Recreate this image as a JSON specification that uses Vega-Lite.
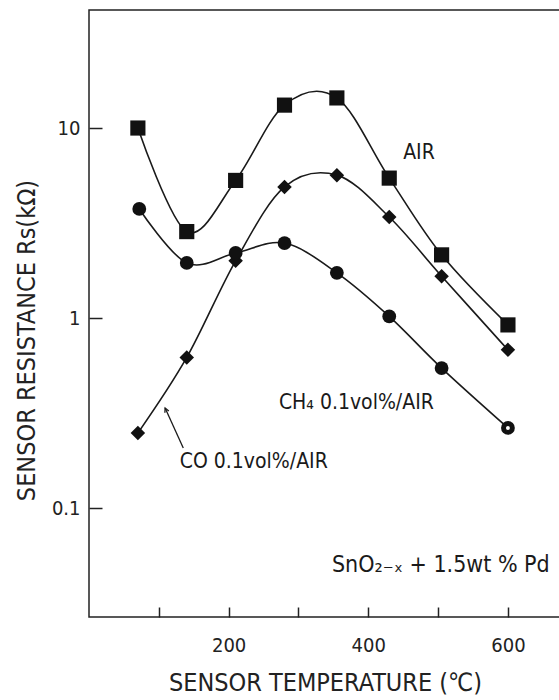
{
  "$schema": "https://vega.github.io/schema/vega-lite/v6.json",
  "width": 472,
  "height": 607,
  "autosize": {"type": "none"},
  "padding": {"left": 89, "top": 10, "right": 0, "bottom": 83},
  "background": "white",
  "config": {
    "view": {"stroke": "#222222", "strokeWidth": 1.5},
    "font": "DejaVu Sans Condensed, sans-serif",
    "axis": {"domain": false, "grid": false, "tickColor": "#222222", "tickWidth": 1.5, "labelColor": "#222222", "titleColor": "#222222", "labelFont": "DejaVu Sans Condensed, sans-serif", "titleFont": "DejaVu Sans Condensed, sans-serif", "titleFontWeight": "normal"}
  },
  "datasets": {
    "curves": [
      {"series": "AIR", "T": 70, "R": 10},
      {"series": "AIR", "T": 140, "R": 2.85},
      {"series": "AIR", "T": 210, "R": 5.3},
      {"series": "AIR", "T": 280, "R": 13.2},
      {"series": "AIR", "T": 355, "R": 14.4},
      {"series": "AIR", "T": 430, "R": 5.45},
      {"series": "AIR", "T": 505, "R": 2.15},
      {"series": "AIR", "T": 600, "R": 0.92},
      {"series": "CO", "T": 70, "R": 0.248},
      {"series": "CO", "T": 140, "R": 0.62},
      {"series": "CO", "T": 210, "R": 2.0},
      {"series": "CO", "T": 280, "R": 4.9},
      {"series": "CO", "T": 355, "R": 5.65},
      {"series": "CO", "T": 430, "R": 3.4},
      {"series": "CO", "T": 505, "R": 1.66},
      {"series": "CO", "T": 600, "R": 0.68},
      {"series": "CH4", "T": 72, "R": 3.75},
      {"series": "CH4", "T": 140, "R": 1.95},
      {"series": "CH4", "T": 210, "R": 2.2},
      {"series": "CH4", "T": 280, "R": 2.48},
      {"series": "CH4", "T": 355, "R": 1.73},
      {"series": "CH4", "T": 430, "R": 1.02},
      {"series": "CH4", "T": 505, "R": 0.545},
      {"series": "CH4", "T": 600, "R": 0.264}
    ],
    "labels": [
      {"label": "AIR", "T": 450, "R": 7.4},
      {"label": "CH₄ 0.1vol%/AIR", "T": 272, "R": 0.357},
      {"label": "CO  0.1vol%/AIR", "T": 130, "R": 0.175}
    ],
    "formula": [
      {"label": "SnO₂₋ₓ  +  1.5wt % Pd", "T": 348, "R": 0.05}
    ],
    "arrow": [
      {"T": 109, "R": 0.336, "T2": 135, "R2": 0.207}
    ]
  },
  "encoding": {
    "x": {
      "field": "T", "type": "quantitative",
      "scale": {"domain": [0, 676], "nice": false, "zero": false},
      "axis": {
        "values": [100, 200, 300, 400, 500, 600],
        "labelExpr": "datum.value % 200 === 0 ? datum.label : ''",
        "tickSize": -10,
        "labelPadding": 28,
        "labelFontSize": 20,
        "title": "SENSOR TEMPERATURE (℃)",
        "titleFontSize": 25,
        "titlePadding": 15
      }
    },
    "y": {
      "field": "R", "type": "quantitative",
      "scale": {"type": "log", "domain": [0.0267, 41.8], "nice": false},
      "axis": {
        "values": [0.1, 1, 10],
        "format": "~g",
        "tickSize": -13,
        "labelPadding": 22,
        "labelFontSize": 20,
        "title": "SENSOR RESISTANCE  Rs(kΩ)",
        "titleFontSize": 25,
        "titlePadding": 12,
        "titleY": 330
      }
    }
  },
  "layer": [
    {
      "data": {"name": "curves"},
      "mark": {"type": "line", "interpolate": "cardinal", "color": "#1a1a1a", "strokeWidth": 1.6},
      "encoding": {"detail": {"field": "series"}}
    },
    {
      "data": {"name": "curves"},
      "mark": {"type": "point", "filled": true, "fill": "#111111", "strokeWidth": 0, "opacity": 1},
      "encoding": {
        "shape": {"field": "series", "type": "nominal", "scale": {"domain": ["AIR", "CO", "CH4"], "range": ["square", "diamond", "circle"]}, "legend": null},
        "size": {"field": "series", "type": "nominal", "scale": {"domain": ["AIR", "CO", "CH4"], "range": [230, 190, 34]}, "legend": null}
      }
    },
    {
      "data": {"name": "curves"},
      "transform": [{"filter": "datum.series === 'CH4' && datum.T === 600"}],
      "mark": {"type": "point", "filled": true, "fill": "white", "stroke": "#111111", "strokeWidth": 1.2, "size": 26, "opacity": 1}
    },
    {
      "data": {"name": "labels"},
      "mark": {"type": "text", "align": "left", "baseline": "middle", "fontSize": 21, "color": "#1a1a1a"},
      "encoding": {"text": {"field": "label"}}
    },
    {
      "data": {"name": "formula"},
      "mark": {"type": "text", "align": "left", "baseline": "middle", "fontSize": 23, "color": "#1a1a1a"},
      "encoding": {"text": {"field": "label"}}
    },
    {
      "data": {"name": "arrow"},
      "mark": {"type": "rule", "color": "#1a1a1a", "strokeWidth": 1.3},
      "encoding": {"x2": {"field": "T2"}, "y2": {"field": "R2"}}
    },
    {
      "data": {"name": "arrow"},
      "mark": {"type": "point", "shape": "M -0.45 0.9 L 0 0 L 0.45 0.9", "filled": false, "stroke": "#1a1a1a", "strokeWidth": 1.3, "size": 90, "angle": 336, "opacity": 1}
    }
  ]
}
